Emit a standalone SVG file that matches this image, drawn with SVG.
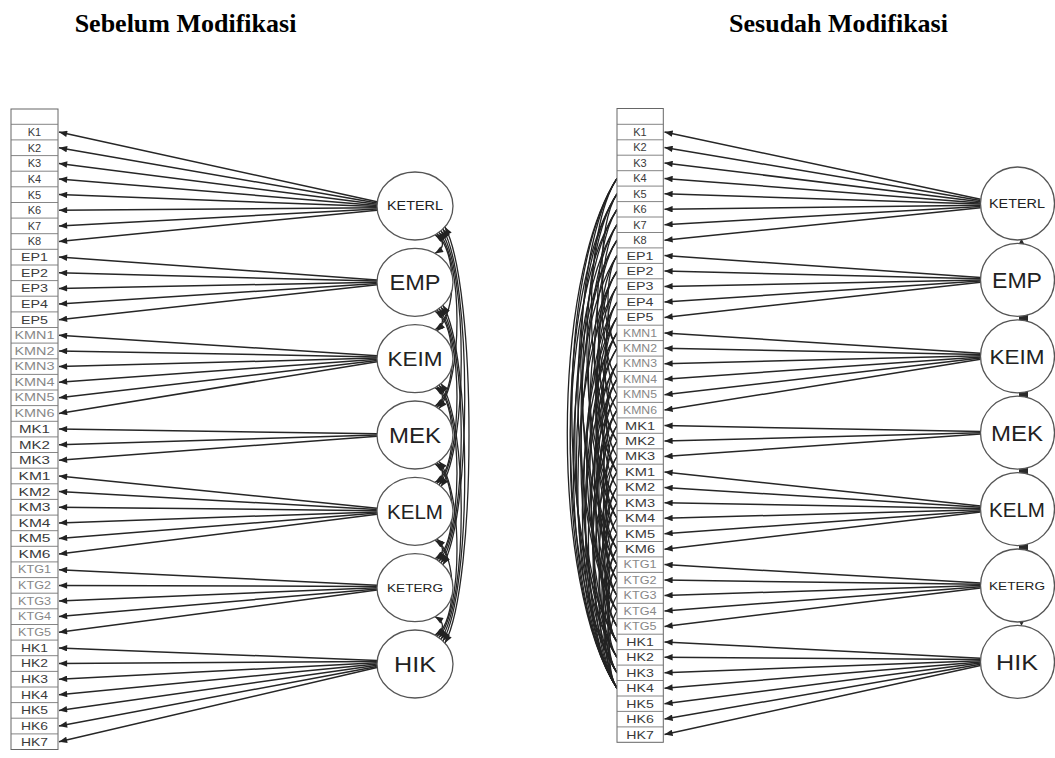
<svg xmlns="http://www.w3.org/2000/svg" xmlns:xlink="http://www.w3.org/1999/xlink" width="1055" height="758" viewBox="0 0 1055 758">
<style>
.title{font-family:"Liberation Serif","Times New Roman",serif;font-weight:bold;font-size:26px;fill:#000;text-anchor:middle}
.box{fill:#fff;stroke:#666;stroke-width:1}
.sep{fill:none;stroke:#777;stroke-width:0.9}
.lb{font-family:"Liberation Sans",Arial,sans-serif;font-size:11px;fill:#3a3a3a;text-anchor:middle}
.lb2{font-size:10px;fill:#888}
.ld{stroke:#262626;stroke-width:1.5;marker-end:url(#ah)}
.fac ellipse{fill:#fff;stroke:#555;stroke-width:1.3}
.ft{font-family:"Liberation Sans",Arial,sans-serif;fill:#222;text-anchor:middle}
.cov{fill:none;stroke:#262626;stroke-width:1.3;marker-start:url(#ah);marker-end:url(#ah)}
.ec{fill:none;stroke:#222;stroke-width:1.3}
.bar{fill:#2a2a2a}
</style>
<defs>
<marker id="ah" viewBox="0 0 10 8" refX="10" refY="4" markerWidth="9" markerHeight="6.5" orient="auto-start-reverse" markerUnits="userSpaceOnUse"><path d="M0,0 L10,4 L0,8 z" fill="#222"/></marker>
<path id="ecu" d="M0,0 C-0.13,0.2 -0.13,0.8 0,1" vector-effect="non-scaling-stroke"/>
</defs>
<rect width="1055" height="758" fill="#fff"/>
<text class="title" x="185.5" y="32">Sebelum Modifikasi</text>
<text class="title" x="838.5" y="32">Sesudah Modifikasi</text>

<!-- LEFT: indicator box -->
<g id="left-indicators">
<rect class="box" x="11" y="109" width="47" height="640.5"/>
<path class="sep" d="M11,124.3H58M11,139.9H58M11,155.6H58M11,171.2H58M11,186.8H58M11,202.5H58M11,218.1H58M11,233.7H58M11,249.3H58M11,265H58M11,280.6H58M11,296.2H58M11,311.9H58M11,327.5H58M11,343.1H58M11,358.8H58M11,374.4H58M11,390H58M11,405.6H58M11,421.3H58M11,436.9H58M11,452.5H58M11,468.2H58M11,483.8H58M11,499.4H58M11,515.1H58M11,530.7H58M11,546.3H58M11,561.9H58M11,577.6H58M11,593.2H58M11,608.8H58M11,624.5H58M11,640.1H58M11,655.7H58M11,671.4H58M11,687H58M11,702.6H58M11,718.2H58M11,733.9H58"/>
<text class="lb" x="34.5" y="136">K1</text>
<text class="lb" x="34.5" y="151.6">K2</text>
<text class="lb" x="34.5" y="167.3">K3</text>
<text class="lb" x="34.5" y="182.9">K4</text>
<text class="lb" x="34.5" y="198.5">K5</text>
<text class="lb" x="34.5" y="214.2">K6</text>
<text class="lb" x="34.5" y="229.8">K7</text>
<text class="lb" x="34.5" y="245.4">K8</text>
<text class="lb" x="34.5" y="261" textLength="27" lengthAdjust="spacingAndGlyphs">EP1</text>
<text class="lb" x="34.5" y="276.7" textLength="27" lengthAdjust="spacingAndGlyphs">EP2</text>
<text class="lb" x="34.5" y="292.3" textLength="27" lengthAdjust="spacingAndGlyphs">EP3</text>
<text class="lb" x="34.5" y="307.9" textLength="27" lengthAdjust="spacingAndGlyphs">EP4</text>
<text class="lb" x="34.5" y="323.6" textLength="27" lengthAdjust="spacingAndGlyphs">EP5</text>
<text class="lb lb2" x="34.5" y="338.9" textLength="40" lengthAdjust="spacingAndGlyphs">KMN1</text>
<text class="lb lb2" x="34.5" y="354.5" textLength="40" lengthAdjust="spacingAndGlyphs">KMN2</text>
<text class="lb lb2" x="34.5" y="370.2" textLength="40" lengthAdjust="spacingAndGlyphs">KMN3</text>
<text class="lb lb2" x="34.5" y="385.8" textLength="40" lengthAdjust="spacingAndGlyphs">KMN4</text>
<text class="lb lb2" x="34.5" y="401.4" textLength="40" lengthAdjust="spacingAndGlyphs">KMN5</text>
<text class="lb lb2" x="34.5" y="417" textLength="40" lengthAdjust="spacingAndGlyphs">KMN6</text>
<text class="lb" x="34.5" y="433" textLength="31" lengthAdjust="spacingAndGlyphs">MK1</text>
<text class="lb" x="34.5" y="448.6" textLength="31" lengthAdjust="spacingAndGlyphs">MK2</text>
<text class="lb" x="34.5" y="464.2" textLength="31" lengthAdjust="spacingAndGlyphs">MK3</text>
<text class="lb" x="34.5" y="479.9" textLength="32" lengthAdjust="spacingAndGlyphs">KM1</text>
<text class="lb" x="34.5" y="495.5" textLength="32" lengthAdjust="spacingAndGlyphs">KM2</text>
<text class="lb" x="34.5" y="511.1" textLength="32" lengthAdjust="spacingAndGlyphs">KM3</text>
<text class="lb" x="34.5" y="526.8" textLength="32" lengthAdjust="spacingAndGlyphs">KM4</text>
<text class="lb" x="34.5" y="542.4" textLength="32" lengthAdjust="spacingAndGlyphs">KM5</text>
<text class="lb" x="34.5" y="558" textLength="32" lengthAdjust="spacingAndGlyphs">KM6</text>
<text class="lb lb2" x="34.5" y="573.3" textLength="33" lengthAdjust="spacingAndGlyphs">KTG1</text>
<text class="lb lb2" x="34.5" y="588.9" textLength="33" lengthAdjust="spacingAndGlyphs">KTG2</text>
<text class="lb lb2" x="34.5" y="604.5" textLength="33" lengthAdjust="spacingAndGlyphs">KTG3</text>
<text class="lb lb2" x="34.5" y="620.1" textLength="33" lengthAdjust="spacingAndGlyphs">KTG4</text>
<text class="lb lb2" x="34.5" y="635.8" textLength="33" lengthAdjust="spacingAndGlyphs">KTG5</text>
<text class="lb" x="34.5" y="651.8" textLength="27" lengthAdjust="spacingAndGlyphs">HK1</text>
<text class="lb" x="34.5" y="667.4" textLength="27" lengthAdjust="spacingAndGlyphs">HK2</text>
<text class="lb" x="34.5" y="683.1" textLength="27" lengthAdjust="spacingAndGlyphs">HK3</text>
<text class="lb" x="34.5" y="698.7" textLength="27" lengthAdjust="spacingAndGlyphs">HK4</text>
<text class="lb" x="34.5" y="714.3" textLength="27" lengthAdjust="spacingAndGlyphs">HK5</text>
<text class="lb" x="34.5" y="729.9" textLength="27" lengthAdjust="spacingAndGlyphs">HK6</text>
<text class="lb" x="34.5" y="745.6" textLength="27" lengthAdjust="spacingAndGlyphs">HK7</text>
</g>

<!-- LEFT: connectors -->
<g id="left-connectors">
<line class="ld" x1="377" y1="201.8" x2="59" y2="132.1"/>
<line class="ld" x1="377" y1="203" x2="59" y2="147.7"/>
<line class="ld" x1="377" y1="204.2" x2="59" y2="163.4"/>
<line class="ld" x1="377" y1="205.4" x2="59" y2="179"/>
<line class="ld" x1="377" y1="206.6" x2="59" y2="194.6"/>
<line class="ld" x1="377" y1="207.8" x2="59" y2="210.3"/>
<line class="ld" x1="377" y1="209" x2="59" y2="225.9"/>
<line class="ld" x1="377" y1="210.2" x2="59" y2="241.5"/>
<line class="ld" x1="377" y1="279.9" x2="59" y2="257.1"/>
<line class="ld" x1="377" y1="281.1" x2="59" y2="272.8"/>
<line class="ld" x1="377" y1="282.3" x2="59" y2="288.4"/>
<line class="ld" x1="377" y1="283.5" x2="59" y2="304"/>
<line class="ld" x1="377" y1="284.7" x2="59" y2="319.7"/>
<line class="ld" x1="377" y1="355.7" x2="59" y2="335.3"/>
<line class="ld" x1="377" y1="356.9" x2="59" y2="350.9"/>
<line class="ld" x1="377" y1="358.1" x2="59" y2="366.6"/>
<line class="ld" x1="377" y1="359.3" x2="59" y2="382.2"/>
<line class="ld" x1="377" y1="360.5" x2="59" y2="397.8"/>
<line class="ld" x1="377" y1="361.7" x2="59" y2="413.4"/>
<line class="ld" x1="377" y1="433.8" x2="59" y2="429.1"/>
<line class="ld" x1="377" y1="435" x2="59" y2="444.7"/>
<line class="ld" x1="377" y1="436.2" x2="59" y2="460.3"/>
<line class="ld" x1="377" y1="508.3" x2="59" y2="476"/>
<line class="ld" x1="377" y1="509.5" x2="59" y2="491.6"/>
<line class="ld" x1="377" y1="510.7" x2="59" y2="507.2"/>
<line class="ld" x1="377" y1="511.9" x2="59" y2="522.9"/>
<line class="ld" x1="377" y1="513.1" x2="59" y2="538.5"/>
<line class="ld" x1="377" y1="514.3" x2="59" y2="554.1"/>
<line class="ld" x1="377" y1="585.3" x2="59" y2="569.7"/>
<line class="ld" x1="377" y1="586.5" x2="59" y2="585.4"/>
<line class="ld" x1="377" y1="587.7" x2="59" y2="601"/>
<line class="ld" x1="377" y1="588.9" x2="59" y2="616.6"/>
<line class="ld" x1="377" y1="590.1" x2="59" y2="632.3"/>
<line class="ld" x1="377" y1="660.4" x2="59" y2="647.9"/>
<line class="ld" x1="377" y1="661.6" x2="59" y2="663.5"/>
<line class="ld" x1="377" y1="662.8" x2="59" y2="679.2"/>
<line class="ld" x1="377" y1="664" x2="59" y2="694.8"/>
<line class="ld" x1="377" y1="665.2" x2="59" y2="710.4"/>
<line class="ld" x1="377" y1="666.4" x2="59" y2="726"/>
<line class="ld" x1="377" y1="667.6" x2="59" y2="741.7"/>
<!-- covariances between factors -->
<path class="cov" d="M435,234.9C445,240.9 445,247.4 435,253.4"/>
<path class="cov" d="M435,311.2C445,317.2 445,323.8 435,329.8"/>
<path class="cov" d="M435,387.6C445,393.6 445,400.1 435,406.1"/>
<path class="cov" d="M435,463.9C445,469.9 445,476.4 435,482.4"/>
<path class="cov" d="M435,540.2C445,546.2 445,552.8 435,558.8"/>
<path class="cov" d="M435,616.6C445,622.6 445,629.1 435,635.1"/>
<path class="cov" d="M437,233.7C457,253.7 457,311 437,331"/>
<path class="cov" d="M437,310C457,330 457,387.3 437,407.3"/>
<path class="cov" d="M437,386.4C457,406.4 457,463.6 437,483.6"/>
<path class="cov" d="M437,462.7C457,482.7 457,540 437,560"/>
<path class="cov" d="M437,539C457,559 457,616.3 437,636.3"/>
<path class="cov" d="M439,232.4C463,262.4 463,378.6 439,408.6"/>
<path class="cov" d="M439,308.7C463,338.7 463,454.9 439,484.9"/>
<path class="cov" d="M439,385.1C463,415.1 463,531.3 439,561.3"/>
<path class="cov" d="M439,461.4C463,491.4 463,607.6 439,637.6"/>
<path class="cov" d="M441,230.8C468,270.8 468,446.5 441,486.5"/>
<path class="cov" d="M441,307.1C468,347.1 468,522.9 441,562.9"/>
<path class="cov" d="M441,383.5C468,423.5 468,599.2 441,639.2"/>
<path class="cov" d="M443,229C472,279 472,514.7 443,564.7"/>
<path class="cov" d="M443,305.3C472,355.3 472,591 443,641"/>
<path class="cov" d="M445,226.9C477,286.9 477,583.1 445,643.1"/>
</g>

<!-- LEFT: factors -->
<g id="L-KETERL" class="fac"><ellipse cx="415" cy="206" rx="38" ry="34"/><text class="ft" x="415" y="210.3" font-size="12" textLength="56" lengthAdjust="spacingAndGlyphs">KETERL</text></g>
<g id="L-EMP" class="fac"><ellipse cx="415" cy="282.3" rx="38" ry="34"/><text class="ft" x="415" y="290.2" font-size="22" textLength="51" lengthAdjust="spacingAndGlyphs">EMP</text></g>
<g id="L-KEIM" class="fac"><ellipse cx="415" cy="358.7" rx="38" ry="34"/><text class="ft" x="415" y="366.3" font-size="21" textLength="55" lengthAdjust="spacingAndGlyphs">KEIM</text></g>
<g id="L-MEK" class="fac"><ellipse cx="415" cy="435" rx="38" ry="34"/><text class="ft" x="415" y="442.9" font-size="22" textLength="52" lengthAdjust="spacingAndGlyphs">MEK</text></g>
<g id="L-KELM" class="fac"><ellipse cx="415" cy="511.3" rx="38" ry="34"/><text class="ft" x="415" y="518.9" font-size="21" textLength="56" lengthAdjust="spacingAndGlyphs">KELM</text></g>
<g id="L-KETERG" class="fac"><ellipse cx="415" cy="587.7" rx="38" ry="34"/><text class="ft" x="415" y="591.8" font-size="11.5" textLength="56" lengthAdjust="spacingAndGlyphs">KETERG</text></g>
<g id="L-HIK" class="fac"><ellipse cx="415" cy="664" rx="38" ry="34"/><text class="ft" x="415" y="671.9" font-size="22" textLength="42" lengthAdjust="spacingAndGlyphs">HIK</text></g>

<!-- RIGHT: error covariances -->
<g id="right-error-covariances" class="ec">
<use href="#ecu" transform="translate(617,178.4) scale(509.85)"/>
<use href="#ecu" transform="translate(617,193.8) scale(478.95)"/>
<use href="#ecu" transform="translate(617,209.3) scale(478.95)"/>
<use href="#ecu" transform="translate(617,178.4) scale(463.5)"/>
<use href="#ecu" transform="translate(617,193.8) scale(401.7)"/>
<use href="#ecu" transform="translate(617,224.7) scale(432.6)"/>
<use href="#ecu" transform="translate(617,240.2) scale(448.05)"/>
<use href="#ecu" transform="translate(617,209.3) scale(355.35)"/>
<use href="#ecu" transform="translate(617,255.6) scale(417.15)"/>
<use href="#ecu" transform="translate(617,271.1) scale(370.8)"/>
<use href="#ecu" transform="translate(617,286.5) scale(401.7)"/>
<use href="#ecu" transform="translate(617,224.7) scale(293.55)"/>
<use href="#ecu" transform="translate(617,240.2) scale(231.75)"/>
<use href="#ecu" transform="translate(617,302) scale(309)"/>
<use href="#ecu" transform="translate(617,317.4) scale(339.9)"/>
<use href="#ecu" transform="translate(617,332.9) scale(355.35)"/>
<use href="#ecu" transform="translate(617,255.6) scale(185.4)"/>
<use href="#ecu" transform="translate(617,271.1) scale(278.1)"/>
<use href="#ecu" transform="translate(617,286.5) scale(216.3)"/>
<use href="#ecu" transform="translate(617,348.3) scale(324.45)"/>
<use href="#ecu" transform="translate(617,363.8) scale(231.75)"/>
<use href="#ecu" transform="translate(617,379.2) scale(262.65)"/>
<use href="#ecu" transform="translate(617,302) scale(123.6)"/>
<use href="#ecu" transform="translate(617,317.4) scale(216.3)"/>
<use href="#ecu" transform="translate(617,394.7) scale(293.55)"/>
<use href="#ecu" transform="translate(617,410.1) scale(247.2)"/>
<use href="#ecu" transform="translate(617,332.9) scale(154.5)"/>
<use href="#ecu" transform="translate(617,348.3) scale(216.3)"/>
<use href="#ecu" transform="translate(617,425.6) scale(247.2)"/>
<use href="#ecu" transform="translate(617,441) scale(185.4)"/>
<use href="#ecu" transform="translate(617,363.8) scale(108.15)"/>
<use href="#ecu" transform="translate(617,379.2) scale(139.05)"/>
<use href="#ecu" transform="translate(617,456.5) scale(231.75)"/>
<use href="#ecu" transform="translate(617,471.9) scale(185.4)"/>
<use href="#ecu" transform="translate(617,394.7) scale(185.4)"/>
<use href="#ecu" transform="translate(617,410.1) scale(139.05)"/>
<use href="#ecu" transform="translate(617,487.4) scale(154.5)"/>
<use href="#ecu" transform="translate(617,502.8) scale(185.4)"/>
<use href="#ecu" transform="translate(617,425.6) scale(108.15)"/>
<use href="#ecu" transform="translate(617,441) scale(139.05)"/>
<use href="#ecu" transform="translate(617,518.3) scale(154.5)"/>
<use href="#ecu" transform="translate(617,533.7) scale(108.15)"/>
<use href="#ecu" transform="translate(617,456.5) scale(108.15)"/>
<use href="#ecu" transform="translate(617,471.9) scale(139.05)"/>
<use href="#ecu" transform="translate(617,549.2) scale(139.05)"/>
<use href="#ecu" transform="translate(617,564.6) scale(92.7)"/>
<use href="#ecu" transform="translate(617,487.4) scale(108.15)"/>
<use href="#ecu" transform="translate(617,502.8) scale(123.6)"/>
<use href="#ecu" transform="translate(617,580.1) scale(92.7)"/>
<use href="#ecu" transform="translate(617,595.5) scale(92.7)"/>
<use href="#ecu" transform="translate(617,178.4) scale(262.65)"/>
<use href="#ecu" transform="translate(617,193.8) scale(309)"/>
<use href="#ecu" transform="translate(617,209.3) scale(200.85)"/>
<use href="#ecu" transform="translate(617,224.7) scale(154.5)"/>
<use href="#ecu" transform="translate(617,255.6) scale(92.7)"/>
<use href="#ecu" transform="translate(617,286.5) scale(108.15)"/>
<use href="#ecu" transform="translate(617,317.4) scale(139.05)"/>
<use href="#ecu" transform="translate(617,533.7) scale(139.05)"/>
<use href="#ecu" transform="translate(617,611) scale(77.25)"/>
<use href="#ecu" transform="translate(617,178.4) scale(370.8)"/>
<use href="#ecu" transform="translate(617,271.1) scale(200.85)"/>
<use href="#ecu" transform="translate(617,240.2) scale(370.8)"/>
<use href="#ecu" transform="translate(617,332.9) scale(278.1)"/>
<use href="#ecu" transform="translate(617,363.8) scale(324.45)"/>
<use href="#ecu" transform="translate(617,564.6) scale(123.6)"/>
<use href="#ecu" transform="translate(617,379.2) scale(200.85)"/>
<use href="#ecu" transform="translate(617,410.1) scale(216.3)"/>
<use href="#ecu" transform="translate(617,193.8) scale(154.5)"/>
<use href="#ecu" transform="translate(617,302) scale(216.3)"/>
<use href="#ecu" transform="translate(617,549.2) scale(92.7)"/>
</g>

<!-- RIGHT: indicator box -->
<g id="right-indicators">
<rect class="box" x="617" y="108.5" width="46.3" height="633.8"/>
<path class="sep" d="M617,124.3H663.3M617,139.8H663.3M617,155.2H663.3M617,170.7H663.3M617,186.1H663.3M617,201.6H663.3M617,217H663.3M617,232.5H663.3M617,247.9H663.3M617,263.4H663.3M617,278.8H663.3M617,294.3H663.3M617,309.7H663.3M617,325.2H663.3M617,340.6H663.3M617,356.1H663.3M617,371.5H663.3M617,387H663.3M617,402.4H663.3M617,417.9H663.3M617,433.3H663.3M617,448.8H663.3M617,464.2H663.3M617,479.7H663.3M617,495.1H663.3M617,510.6H663.3M617,526H663.3M617,541.5H663.3M617,556.9H663.3M617,572.4H663.3M617,587.8H663.3M617,603.3H663.3M617,618.7H663.3M617,634.2H663.3M617,649.6H663.3M617,665.1H663.3M617,680.5H663.3M617,696H663.3M617,711.4H663.3M617,726.9H663.3"/>
<text class="lb" x="640" y="135.9">K1</text>
<text class="lb" x="640" y="151.4">K2</text>
<text class="lb" x="640" y="166.8">K3</text>
<text class="lb" x="640" y="182.3">K4</text>
<text class="lb" x="640" y="197.7">K5</text>
<text class="lb" x="640" y="213.2">K6</text>
<text class="lb" x="640" y="228.6">K7</text>
<text class="lb" x="640" y="244.1">K8</text>
<text class="lb" x="640" y="259.5" textLength="27" lengthAdjust="spacingAndGlyphs">EP1</text>
<text class="lb" x="640" y="275" textLength="27" lengthAdjust="spacingAndGlyphs">EP2</text>
<text class="lb" x="640" y="290.4" textLength="27" lengthAdjust="spacingAndGlyphs">EP3</text>
<text class="lb" x="640" y="305.9" textLength="27" lengthAdjust="spacingAndGlyphs">EP4</text>
<text class="lb" x="640" y="321.3" textLength="27" lengthAdjust="spacingAndGlyphs">EP5</text>
<text class="lb lb2" x="640" y="336.5" textLength="34" lengthAdjust="spacingAndGlyphs">KMN1</text>
<text class="lb lb2" x="640" y="351.9" textLength="34" lengthAdjust="spacingAndGlyphs">KMN2</text>
<text class="lb lb2" x="640" y="367.4" textLength="34" lengthAdjust="spacingAndGlyphs">KMN3</text>
<text class="lb lb2" x="640" y="382.8" textLength="34" lengthAdjust="spacingAndGlyphs">KMN4</text>
<text class="lb lb2" x="640" y="398.3" textLength="34" lengthAdjust="spacingAndGlyphs">KMN5</text>
<text class="lb lb2" x="640" y="413.7" textLength="34" lengthAdjust="spacingAndGlyphs">KMN6</text>
<text class="lb" x="640" y="429.5" textLength="30" lengthAdjust="spacingAndGlyphs">MK1</text>
<text class="lb" x="640" y="444.9" textLength="30" lengthAdjust="spacingAndGlyphs">MK2</text>
<text class="lb" x="640" y="460.4" textLength="30" lengthAdjust="spacingAndGlyphs">MK3</text>
<text class="lb" x="640" y="475.8" textLength="30" lengthAdjust="spacingAndGlyphs">KM1</text>
<text class="lb" x="640" y="491.3" textLength="30" lengthAdjust="spacingAndGlyphs">KM2</text>
<text class="lb" x="640" y="506.7" textLength="30" lengthAdjust="spacingAndGlyphs">KM3</text>
<text class="lb" x="640" y="522.2" textLength="30" lengthAdjust="spacingAndGlyphs">KM4</text>
<text class="lb" x="640" y="537.6" textLength="30" lengthAdjust="spacingAndGlyphs">KM5</text>
<text class="lb" x="640" y="553.1" textLength="30" lengthAdjust="spacingAndGlyphs">KM6</text>
<text class="lb lb2" x="640" y="568.2" textLength="33" lengthAdjust="spacingAndGlyphs">KTG1</text>
<text class="lb lb2" x="640" y="583.7" textLength="33" lengthAdjust="spacingAndGlyphs">KTG2</text>
<text class="lb lb2" x="640" y="599.1" textLength="33" lengthAdjust="spacingAndGlyphs">KTG3</text>
<text class="lb lb2" x="640" y="614.6" textLength="33" lengthAdjust="spacingAndGlyphs">KTG4</text>
<text class="lb lb2" x="640" y="630" textLength="33" lengthAdjust="spacingAndGlyphs">KTG5</text>
<text class="lb" x="640" y="645.8" textLength="27.5" lengthAdjust="spacingAndGlyphs">HK1</text>
<text class="lb" x="640" y="661.2" textLength="27.5" lengthAdjust="spacingAndGlyphs">HK2</text>
<text class="lb" x="640" y="676.7" textLength="27.5" lengthAdjust="spacingAndGlyphs">HK3</text>
<text class="lb" x="640" y="692.1" textLength="27.5" lengthAdjust="spacingAndGlyphs">HK4</text>
<text class="lb" x="640" y="707.6" textLength="27.5" lengthAdjust="spacingAndGlyphs">HK5</text>
<text class="lb" x="640" y="723" textLength="27.5" lengthAdjust="spacingAndGlyphs">HK6</text>
<text class="lb" x="640" y="738.5" textLength="27.5" lengthAdjust="spacingAndGlyphs">HK7</text>
</g>

<!-- RIGHT: connectors -->
<g id="right-connectors">
<line class="ld" x1="980.5" y1="199.3" x2="664.5" y2="132"/>
<line class="ld" x1="980.5" y1="200.5" x2="664.5" y2="147.5"/>
<line class="ld" x1="980.5" y1="201.7" x2="664.5" y2="162.9"/>
<line class="ld" x1="980.5" y1="202.9" x2="664.5" y2="178.4"/>
<line class="ld" x1="980.5" y1="204.1" x2="664.5" y2="193.8"/>
<line class="ld" x1="980.5" y1="205.3" x2="664.5" y2="209.3"/>
<line class="ld" x1="980.5" y1="206.5" x2="664.5" y2="224.7"/>
<line class="ld" x1="980.5" y1="207.7" x2="664.5" y2="240.2"/>
<line class="ld" x1="980.5" y1="277.5" x2="664.5" y2="255.6"/>
<line class="ld" x1="980.5" y1="278.7" x2="664.5" y2="271.1"/>
<line class="ld" x1="980.5" y1="279.9" x2="664.5" y2="286.5"/>
<line class="ld" x1="980.5" y1="281.1" x2="664.5" y2="302"/>
<line class="ld" x1="980.5" y1="282.3" x2="664.5" y2="317.4"/>
<line class="ld" x1="980.5" y1="353.3" x2="664.5" y2="332.9"/>
<line class="ld" x1="980.5" y1="354.5" x2="664.5" y2="348.3"/>
<line class="ld" x1="980.5" y1="355.7" x2="664.5" y2="363.8"/>
<line class="ld" x1="980.5" y1="356.9" x2="664.5" y2="379.2"/>
<line class="ld" x1="980.5" y1="358.1" x2="664.5" y2="394.7"/>
<line class="ld" x1="980.5" y1="359.3" x2="664.5" y2="410.1"/>
<line class="ld" x1="980.5" y1="431.5" x2="664.5" y2="425.6"/>
<line class="ld" x1="980.5" y1="432.7" x2="664.5" y2="441"/>
<line class="ld" x1="980.5" y1="433.9" x2="664.5" y2="456.5"/>
<line class="ld" x1="980.5" y1="506.1" x2="664.5" y2="471.9"/>
<line class="ld" x1="980.5" y1="507.3" x2="664.5" y2="487.4"/>
<line class="ld" x1="980.5" y1="508.5" x2="664.5" y2="502.8"/>
<line class="ld" x1="980.5" y1="509.7" x2="664.5" y2="518.3"/>
<line class="ld" x1="980.5" y1="510.9" x2="664.5" y2="533.7"/>
<line class="ld" x1="980.5" y1="512.1" x2="664.5" y2="549.2"/>
<line class="ld" x1="980.5" y1="583.1" x2="664.5" y2="564.6"/>
<line class="ld" x1="980.5" y1="584.3" x2="664.5" y2="580.1"/>
<line class="ld" x1="980.5" y1="585.5" x2="664.5" y2="595.5"/>
<line class="ld" x1="980.5" y1="586.7" x2="664.5" y2="611"/>
<line class="ld" x1="980.5" y1="587.9" x2="664.5" y2="626.4"/>
<line class="ld" x1="980.5" y1="658.3" x2="664.5" y2="641.9"/>
<line class="ld" x1="980.5" y1="659.5" x2="664.5" y2="657.3"/>
<line class="ld" x1="980.5" y1="660.7" x2="664.5" y2="672.8"/>
<line class="ld" x1="980.5" y1="661.9" x2="664.5" y2="688.2"/>
<line class="ld" x1="980.5" y1="663.1" x2="664.5" y2="703.7"/>
<line class="ld" x1="980.5" y1="664.3" x2="664.5" y2="719.1"/>
<line class="ld" x1="980.5" y1="665.5" x2="664.5" y2="734.6"/>
<path class="bar" d="M1018,245.5L1021.5,238.5L1025,245.5z"/>
<rect class="bar" x="1019" y="311.1" width="9" height="14"/>
<rect class="bar" x="1019" y="387.5" width="9" height="14"/>
<rect class="bar" x="1019" y="463.9" width="9" height="14"/>
<rect class="bar" x="1019" y="540.3" width="9" height="14"/>
<path class="bar" d="M1018,619L1021.5,626L1025,619z"/>
</g>

<!-- RIGHT: factors -->
<g id="R-KETERL" class="fac"><ellipse cx="1017.5" cy="203.5" rx="37" ry="36.5"/><text class="ft" x="1017" y="207.8" font-size="12" textLength="56" lengthAdjust="spacingAndGlyphs">KETERL</text></g>
<g id="R-EMP" class="fac"><ellipse cx="1017.5" cy="279.9" rx="37" ry="36.5"/><text class="ft" x="1017" y="287.8" font-size="22" textLength="50" lengthAdjust="spacingAndGlyphs">EMP</text></g>
<g id="R-KEIM" class="fac"><ellipse cx="1017.5" cy="356.3" rx="37" ry="36.5"/><text class="ft" x="1017" y="363.9" font-size="21" textLength="55" lengthAdjust="spacingAndGlyphs">KEIM</text></g>
<g id="R-MEK" class="fac"><ellipse cx="1017.5" cy="432.7" rx="37" ry="36.5"/><text class="ft" x="1017" y="440.6" font-size="22" textLength="52" lengthAdjust="spacingAndGlyphs">MEK</text></g>
<g id="R-KELM" class="fac"><ellipse cx="1017.5" cy="509.1" rx="37" ry="36.5"/><text class="ft" x="1017" y="516.7" font-size="21" textLength="56" lengthAdjust="spacingAndGlyphs">KELM</text></g>
<g id="R-KETERG" class="fac"><ellipse cx="1017.5" cy="585.5" rx="37" ry="36.5"/><text class="ft" x="1017" y="589.6" font-size="11.5" textLength="56" lengthAdjust="spacingAndGlyphs">KETERG</text></g>
<g id="R-HIK" class="fac"><ellipse cx="1017.5" cy="661.9" rx="37" ry="36.5"/><text class="ft" x="1017" y="669.8" font-size="22" textLength="42" lengthAdjust="spacingAndGlyphs">HIK</text></g>
</svg>
